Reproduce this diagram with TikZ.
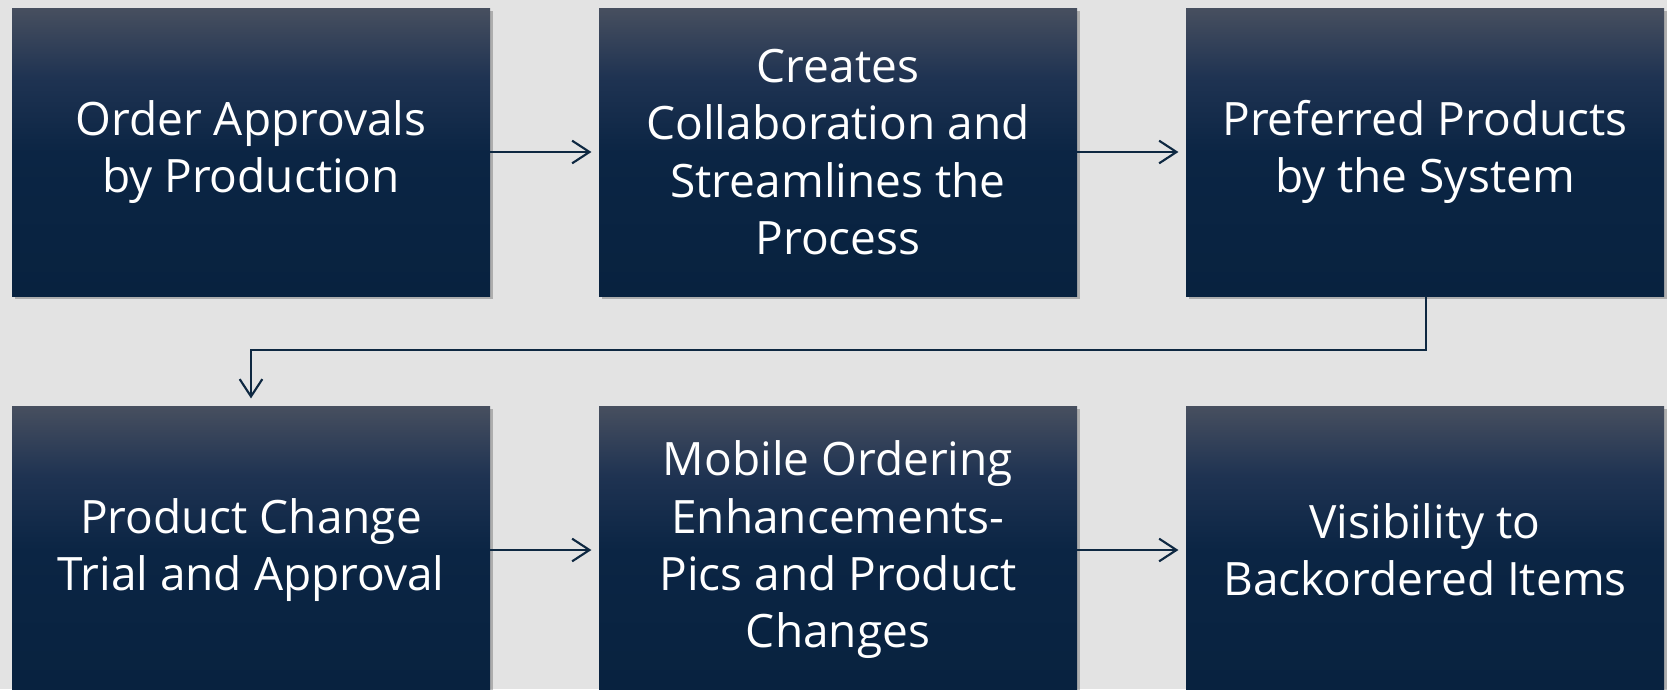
\documentclass[tikz,border=0pt]{standalone}
\usepackage{fontspec}
\setmainfont{Open Sans}
\usetikzlibrary{arrows.meta,shadows,positioning}
\definecolor{bgc}{HTML}{E3E3E3}
\definecolor{navyb}{HTML}{08223F}
\definecolor{navym}{HTML}{0B2544}
\definecolor{navyq}{HTML}{1F3352}
\definecolor{greyt}{HTML}{474F5F}
\definecolor{linec}{HTML}{0E2841}
\pgfdeclareverticalshading{boxshade}{100bp}{color(0bp)=(navyb); color(25bp)=(navyb); color(50bp)=(navym); color(63bp)=(navyq); color(75bp)=(greyt); color(100bp)=(greyt)}
\tikzset{
  stepbox/.style={shading=boxshade, draw=none, minimum width=358.5pt, minimum height=216pt,
    inner sep=0pt, text=white, align=center, font=\fontsize{34.5}{43}\selectfont,
    drop shadow={shadow xshift=2.5pt, shadow yshift=-2.5pt, opacity=0.35, fill=black!70}},
  flow/.style={draw=linec, line width=1.6pt, -{Straight Barb[length=13pt,width=17pt,line width=1.6pt]}, shorten >=5.5pt}
}
\begin{document}
\begin{tikzpicture}[x=0.75pt,y=-0.75pt]
\clip (0,0) rectangle (1667,689);
\fill[bgc] (0,0) rectangle (1667,689);
\node[stepbox] (b1) at (251,152) {Order Approvals\\by Production};
\node[stepbox] (b2) at (838,152) {Creates\\Collaboration and\\Streamlines the\\Process};
\node[stepbox] (b3) at (1425,152) {Preferred Products\\by the System};
\node[stepbox] (b4) at (251,550) {Product Change\\Trial and Approval};
\node[stepbox] (b5) at (838,550) {Mobile Ordering\\Enhancements-\\Pics and Product\\Changes};
\node[stepbox] (b6) at (1425,550) {Visibility to\\Backordered Items};
\coordinate (c1) at (1426,350);
\coordinate (c2) at (251,350);
\draw[flow] (b1) -- (b2);
\draw[flow] (b2) -- (b3);
\draw[flow] (b4) -- (b5);
\draw[flow] (b5) -- (b6);
\draw[flow] (b3.south -| c1) -- (c1) -- (c2) -- (b4.north);
\end{tikzpicture}
\end{document}
